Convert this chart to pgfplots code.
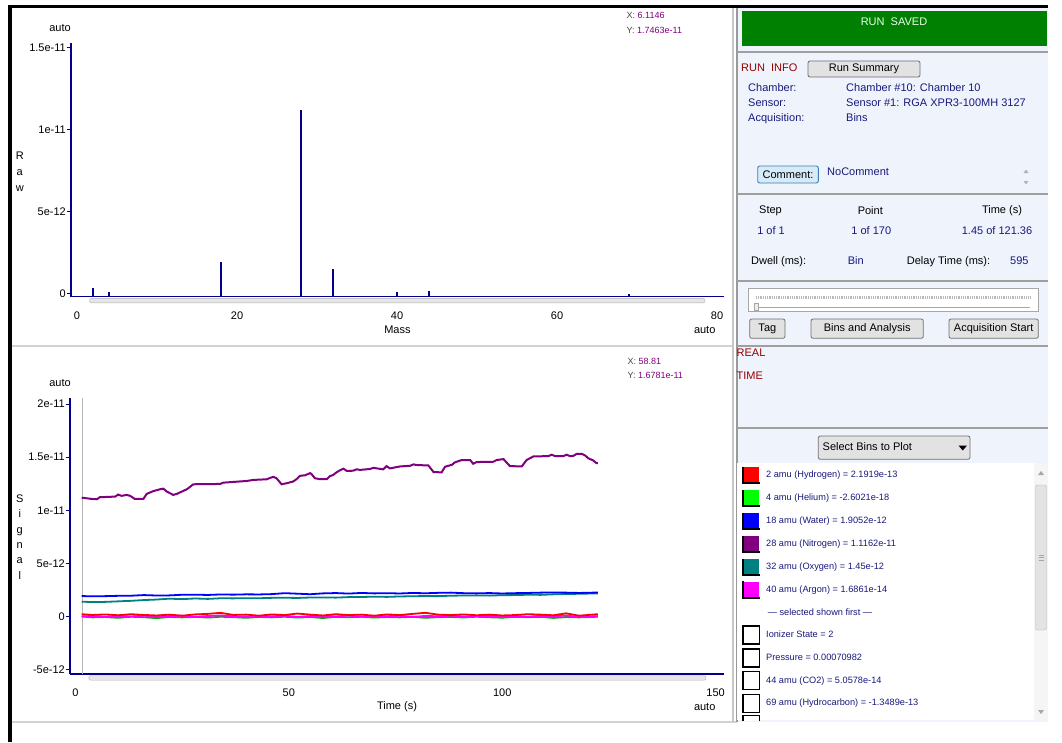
\documentclass[border=0pt]{standalone}
\usepackage{pgfplots}
\pgfplotsset{compat=1.18}
\usepackage{pgfplotstable}
\usepackage{fontspec}
\setmainfont{Liberation Sans}
\definecolor{axnavy}{RGB}{0,0,140}
\definecolor{panelbg}{RGB}{238,243,252}
\definecolor{sepgray}{RGB}{150,150,150}
\definecolor{runred}{RGB}{150,0,0}
\definecolor{txtnavy}{RGB}{25,25,125}
\definecolor{runsaved}{RGB}{0,128,0}
\definecolor{btnfill}{RGB}{226,226,226}
\definecolor{btnedge}{RGB}{112,112,112}
\definecolor{cpurple}{RGB}{128,0,128}
\definecolor{cteal}{RGB}{0,128,128}
\definecolor{cred}{RGB}{255,0,0}
\definecolor{cgreen}{RGB}{0,255,0}
\definecolor{cgreenline}{RGB}{0,170,0}
\definecolor{cblue}{RGB}{0,0,255}
\definecolor{cmag}{RGB}{255,0,255}
\definecolor{cursorgray}{RGB}{180,180,180}
\definecolor{readoutgray}{RGB}{70,70,70}
\definecolor{combtn}{RGB}{214,234,248}
\definecolor{combtnedge}{RGB}{60,127,177}
\newcommand\fa{\fontsize{11}{13}\selectfont}
\newcommand\fb{\fontsize{9.2}{11}\selectfont}
\newcommand\fc{\fontsize{9}{11}\selectfont}
\newcommand\legsq[3]{%
  \fill[#1] (742,{-#2+8}) rectangle (759,{-#2-8});
  \draw[black,line width=1.6pt] (742.8,{-#2+8.5}) -- (742.8,{-#2-8.2}) -- (760,{-#2-8.2});
  \node[anchor=mid west,inner sep=0,text=txtnavy,font=\fb] at (766,-#2) {#3};}
\newcommand\legbox[2]{%
  \draw[black,line width=1.6pt,fill=white] (743,{-#1+9}) rectangle (759.5,{-#1-9});
  \node[anchor=mid west,inner sep=0,text=txtnavy,font=\fb] at (766,-#1) {#2};}
\newcommand\btn[5]{%
  \draw[btnedge,fill=btnfill,rounded corners=2pt,line width=0.8pt] (#1,-#2) rectangle (#3,-#4);
  \node[inner sep=0,font=\fa] at ({(#1+#3)/2},{-(#2+#4)/2}) {#5};}

\pgfplotstableread{
t     red        green       blue       teal       mag
1.45  0.22e-12   0.00e-12    1.93e-12   1.40e-12   0.02e-12
4     0.15e-12   -0.08e-12   1.90e-12   1.36e-12   0.05e-12
7     0.20e-12   -0.05e-12   1.92e-12   1.38e-12   -0.03e-12
10    0.12e-12   -0.12e-12   1.95e-12   1.43e-12   0.06e-12
13    0.22e-12   -0.02e-12   1.96e-12   1.48e-12   0.00e-12
16    0.15e-12   -0.06e-12   2.02e-12   1.55e-12   0.08e-12
19    0.10e-12   -0.15e-12   1.98e-12   1.60e-12   -0.02e-12
22    0.18e-12   -0.04e-12   1.99e-12   1.68e-12   0.04e-12
25    0.08e-12   -0.08e-12   2.05e-12   1.64e-12   0.07e-12
28    0.20e-12   -0.03e-12   2.06e-12   1.70e-12   -0.04e-12
31    0.25e-12   -0.10e-12   2.03e-12   1.66e-12   0.05e-12
34    0.35e-12   -0.02e-12   2.08e-12   1.72e-12   0.10e-12
37    0.15e-12   -0.06e-12   2.06e-12   1.71e-12   0.02e-12
40    0.18e-12   -0.12e-12   2.09e-12   1.73e-12   -0.03e-12
43    0.08e-12   -0.04e-12   2.08e-12   1.72e-12   0.06e-12
46    0.20e-12   -0.08e-12   2.11e-12   1.76e-12   0.01e-12
49    0.14e-12   -0.02e-12   2.20e-12   1.77e-12   0.08e-12
52    0.28e-12   -0.10e-12   2.15e-12   1.75e-12   -0.05e-12
55    0.18e-12   -0.05e-12   2.10e-12   1.79e-12   0.04e-12
58    0.10e-12   -0.14e-12   2.18e-12   1.80e-12   0.06e-12
61    0.22e-12   -0.03e-12   2.21e-12   1.78e-12   0.00e-12
64    0.14e-12   -0.07e-12   2.16e-12   1.83e-12   0.09e-12
67    0.18e-12   -0.02e-12   2.22e-12   1.84e-12   -0.02e-12
70    0.08e-12   -0.10e-12   2.18e-12   1.87e-12   0.05e-12
73    0.20e-12   -0.05e-12   2.20e-12   1.85e-12   0.03e-12
76    0.14e-12   -0.08e-12   2.17e-12   1.89e-12   0.07e-12
79    0.25e-12   -0.03e-12   2.22e-12   1.91e-12   -0.04e-12
82    0.35e-12   -0.12e-12   2.19e-12   1.93e-12   0.06e-12
85    0.18e-12   -0.06e-12   2.23e-12   1.92e-12   0.02e-12
88    0.14e-12   -0.04e-12   2.25e-12   1.96e-12   0.08e-12
91    0.20e-12   -0.09e-12   2.20e-12   1.98e-12   -0.01e-12
94    0.12e-12   -0.02e-12   2.18e-12   1.99e-12   0.04e-12
97    0.18e-12   -0.07e-12   2.21e-12   1.97e-12   0.06e-12
100   0.10e-12   -0.11e-12   2.17e-12   2.01e-12   0.00e-12
103   0.14e-12   -0.04e-12   2.20e-12   2.02e-12   0.05e-12
106   0.22e-12   -0.06e-12   2.22e-12   2.05e-12   -0.03e-12
109   0.18e-12   -0.03e-12   2.25e-12   2.04e-12   0.07e-12
112   0.12e-12   -0.13e-12   2.27e-12   2.09e-12   0.02e-12
115   0.30e-12   -0.05e-12   2.25e-12   2.12e-12   0.10e-12
118   0.08e-12   -0.08e-12   2.22e-12   2.14e-12   -0.06e-12
122.4 0.22e-12   -0.02e-12   2.26e-12   2.18e-12   0.04e-12
}\signal

\begin{document}
\begin{tikzpicture}
\begin{scope}[x=1pt,y=1pt]
\path[use as bounding box,fill=white] (0,0) rectangle (1062,-742);
% right panel background
\fill[panelbg] (737,-7) rectangle (1048,-722);
% separators between panels
\fill[gray!35] (12,-345) rectangle (733,-347);
\fill[gray!35] (12,-721) rectangle (737,-723);
\fill[gray!45] (732,-8) rectangle (734,-722);
\fill[gray!80] (736,-8) rectangle (738,-722);
% green box
\fill[runsaved] (742,-11) rectangle (1046.5,-45.7);
\node[font=\fa,text=green!8!white,inner sep=0] at (894,-21.5) {RUN\ \ SAVED};
% separators right panel
\foreach \yy in {52,194,281,346,428} {\fill[gray!75] (737,-\yy+1) rectangle (1048,-\yy-1);}
% run info
\node[anchor=mid west,inner sep=0,font=\fa,text=runred] at (741,-69) {RUN\ \ INFO};
\btn{808}{61}{920}{77}{Run Summary}
\node[anchor=mid west,inner sep=0,font=\fa,text=txtnavy] at (748,-89.3) {Chamber:};
\node[anchor=mid west,inner sep=0,font=\fa,text=txtnavy] at (748,-104) {Sensor:};
\node[anchor=mid west,inner sep=0,font=\fa,text=txtnavy] at (748,-119) {Acquisition:};
\node[anchor=mid west,inner sep=0,font=\fa,text=txtnavy] at (846,-89.3) {Chamber \#10: Chamber 10};
\node[anchor=mid west,inner sep=0,font=\fa,text=txtnavy] at (846,-104) {Sensor \#1: RGA XPR3-100MH 3127};
\node[anchor=mid west,inner sep=0,font=\fa,text=txtnavy] at (846,-119) {Bins};
\draw[combtnedge,fill=combtn,rounded corners=2pt,line width=0.9pt] (757.7,-166) rectangle (818.3,-183);
\node[inner sep=0,font=\fa] at (788,-174.5) {Comment:};
\node[anchor=mid west,inner sep=0,font=\fa,text=txtnavy] at (827,-172.7) {NoComment};
\fill[gray!60] (1023.5,-173) -- (1028.5,-173) -- (1026,-169.5) -- cycle;
\fill[gray!60] (1023.5,-181) -- (1028.5,-181) -- (1026,-184.5) -- cycle;
% step / point / time
\node[inner sep=0,font=\fa] at (770.5,-210.7) {Step};
\node[inner sep=0,font=\fa] at (870.3,-210.7) {Point};
\node[inner sep=0,font=\fa] at (1002,-210.7) {Time (s)};
\node[inner sep=0,font=\fa,text=txtnavy] at (771,-231) {1 of 1};
\node[inner sep=0,font=\fa,text=txtnavy] at (871.3,-231) {1 of 170};
\node[inner sep=0,font=\fa,text=txtnavy] at (997,-231) {1.45 of 121.36};
\node[anchor=mid west,inner sep=0,font=\fa] at (751,-261.7) {Dwell (ms):};
\node[anchor=mid west,inner sep=0,font=\fa,text=txtnavy] at (847.7,-261.7) {Bin};
\node[anchor=mid west,inner sep=0,font=\fa] at (906.7,-261.7) {Delay Time (ms):};
\node[anchor=mid west,inner sep=0,font=\fa,text=txtnavy] at (1010,-261.7) {595};
% slider
\draw[gray!70,fill=white,line width=0.8pt] (748.3,-288.3) rectangle (1038.3,-311.7);
\draw[gray!55,line width=2.5pt,dash pattern=on 0.8pt off 1pt] (756,-297.3) -- (1030,-297.3);
\draw[gray!70,line width=0.8pt] (756,-307.3) -- (1030,-307.3);
\draw[gray!70,fill=gray!15] (754.5,-310) rectangle (758.5,-303);
% buttons
\btn{749.7}{319}{785}{338.3}{Tag}
\btn{811}{319}{923.3}{338.3}{Bins and Analysis}
\btn{949}{319}{1038.3}{338.3}{Acquisition Start}
% real time
\node[anchor=mid west,inner sep=0,font=\fa,text=runred] at (736.5,-354.3) {REAL};
\node[anchor=mid west,inner sep=0,font=\fa,text=runred] at (736.5,-376.7) {TIME};
% dropdown
\draw[btnedge,fill=btnfill,rounded corners=2pt,line width=0.8pt] (818.3,-436) rectangle (970,-459.3);
\node[anchor=mid west,inner sep=0,font=\fa] at (822.5,-447.8) {Select Bins to Plot};
\fill[black] (958.5,-445.5) -- (967,-445.5) -- (962.75,-450.5) -- cycle;
% list box
\fill[white] (737,-463) rectangle (1034,-720);
\fill[gray!8] (1034,-463) rectangle (1048,-720);
\draw[gray!55,fill=gray!22,rounded corners=2pt] (1035.5,-485) rectangle (1046.5,-630);
\foreach \yy in {555,557.5,560} {\draw[gray!70] (1038.5,-\yy) -- (1043.5,-\yy);}
\fill[gray!70] (1038,-475) -- (1044,-475) -- (1041,-471) -- cycle;
\fill[gray!70] (1038,-710) -- (1044,-710) -- (1041,-714) -- cycle;
\legsq{cred}{475}{2 amu (Hydrogen) = 2.1919e-13}
\legsq{cgreen}{498}{4 amu (Helium) = -2.6021e-18}
\legsq{cblue}{521}{18 amu (Water) = 1.9052e-12}
\legsq{cpurple}{544}{28 amu (Nitrogen) = 1.1162e-11}
\legsq{cteal}{567}{32 amu (Oxygen) = 1.45e-12}
\legsq{cmag}{589.5}{40 amu (Argon) = 1.6861e-14}
\node[inner sep=0,font=\fb,text=txtnavy] at (820,-612.3) {— selected shown first —};
\legbox{635}{Ionizer State = 2}
\legbox{658}{Pressure = 0.00070982}
\legbox{680.5}{44 amu (CO2) = 5.0578e-14}
\legbox{703.3}{69 amu (Hydrocarbon) = -1.3489e-13}
\begin{scope}
\clip (737,-715) rectangle (1034,-720);
\draw[black,line width=1.6pt,fill=white] (743,-715.5) rectangle (759.5,-735);
\end{scope}
% top chart texts
\node[inner sep=0,font=\fa] at (60,-27.7) {auto};
\node[inner sep=0,font=\fontsize{11}{15.8}\selectfont,align=center] at (19.8,-172) {R\\a\\w};
\node[inner sep=0,font=\fa] at (397.4,-330) {Mass};
\node[inner sep=0,font=\fa] at (704.7,-330) {auto};
\node[anchor=mid west,inner sep=0,font=\fc] at (626.5,-15.7) {\textcolor{readoutgray}{X:} \textcolor{cpurple}{6.1146}};
\node[anchor=mid west,inner sep=0,font=\fc] at (626.5,-31) {\textcolor{readoutgray}{Y:} \textcolor{cpurple}{1.7463e-11}};
\draw[gray!60,fill=gray!20,rounded corners=2pt] (89.6,-298.3) rectangle (705,-302.9);
% bottom chart texts
\node[inner sep=0,font=\fa] at (60,-382.7) {auto};
\node[inner sep=0,font=\fontsize{11}{15.3}\selectfont,align=center] at (19.8,-537) {S\\i\\g\\n\\a\\l};
\node[inner sep=0,font=\fa] at (397,-706.7) {Time (s)};
\node[inner sep=0,font=\fa] at (704.7,-706.7) {auto};
\node[anchor=mid west,inner sep=0,font=\fc] at (627.3,-361.7) {\textcolor{readoutgray}{X:} \textcolor{cpurple}{58.81}};
\node[anchor=mid west,inner sep=0,font=\fc] at (627.3,-375.7) {\textcolor{readoutgray}{Y:} \textcolor{cpurple}{1.6781e-11}};
\draw[gray!60,fill=gray!20,rounded corners=2pt] (88.7,-675.7) rectangle (706,-680.2);
% outer black border
\fill[black] (8,-5) rectangle (1048,-7.5);
\fill[black] (8,-5) rectangle (12,-742);
\end{scope}

% ---------- top chart: raw mass spectrum ----------
\begin{axis}[
  at={(71pt,-296.5pt)}, anchor=south west,
  scale only axis, width=653pt, height=253.5pt,
  xmin=-0.75, xmax=80.875, ymin=-0.183e-12, ymax=15.27e-12,
  axis x line=bottom, axis y line=left,
  axis line style={-,draw=axnavy,line width=1.6pt},
  xtick={0,20,40,60,80}, xticklabels={0,20,40,60,80},
  ytick={0,5e-12,1e-11,1.5e-11}, yticklabels={0,5e-12,1e-11,1.5e-11},
  tick align=outside, major tick length=4pt,
  xtick style={draw=none}, ytick style={draw=axnavy,line width=0.8pt},
  tick label style={font=\fa},
  xticklabel style={anchor=center,yshift=-15.2pt},
  yticklabel style={anchor=east,inner sep=1pt},
  scaled y ticks=false, unbounded coords=jump,
]
\addplot[axnavy,line width=1.6pt] coordinates {
(2,-0.183e-12)(2,0.32e-12) (2,nan)
(4,-0.183e-12)(4,0.08e-12) (4,nan)
(18,-0.183e-12)(18,1.95e-12) (18,nan)
(28,-0.183e-12)(28,11.16e-12) (28,nan)
(32,-0.183e-12)(32,1.52e-12) (32,nan)
(40,-0.183e-12)(40,0.09e-12) (40,nan)
(44,-0.183e-12)(44,0.17e-12) (44,nan)
(69,-0.183e-12)(69,-0.03e-12)
};
\end{axis}

% ---------- bottom chart: signal vs time ----------
\begin{axis}[
  at={(70pt,-674pt)}, anchor=south west,
  scale only axis, width=654pt, height=276pt,
  xmin=-1.29, xmax=151.98, ymin=-5.41e-12, ymax=20.57e-12,
  axis x line=bottom, axis y line=left,
  axis line style={-,draw=axnavy,line width=1.6pt},
  xtick={0,50,100,150}, xticklabels={0,50,100,150},
  ytick={-5e-12,0,5e-12,1e-11,1.5e-11,2e-11},
  yticklabels={-5e-12,0,5e-12,1e-11,1.5e-11,2e-11},
  tick align=outside, major tick length=4pt,
  xtick style={draw=none}, ytick style={draw=axnavy,line width=0.8pt},
  tick label style={font=\fa},
  xticklabel style={anchor=center,yshift=-14.3pt},
  yticklabel style={anchor=east,inner sep=1pt},
  scaled y ticks=false,
]
\addplot[cursorgray,line width=1.5pt] coordinates {(1.6,-5.41e-12)(1.6,20.57e-12)};
\addplot[cgreenline,line width=1.8pt] table[x=t,y=green] {\signal};
\addplot[cmag,line width=1.8pt] table[x=t,y=mag] {\signal};
\addplot[cred,line width=1.8pt] table[x=t,y=red] {\signal};
\addplot[cteal,line width=1.8pt] table[x=t,y=teal] {\signal};
\addplot[cblue,line width=1.8pt] table[x=t,y=blue] {\signal};
\addplot[cpurple,line width=2pt] coordinates {
(1.45,11.19e-12)(3.8,11.07e-12)(5.0,11.04e-12)(5.7,11.23e-12)(9.3,11.29e-12)(10.0,11.48e-12)
(10.8,11.36e-12)(12.0,11.45e-12)(12.8,11.36e-12)(13.9,11.07e-12)(15.9,11.07e-12)(16.7,11.55e-12)
(18.2,11.8e-12)(19.8,11.98e-12)(20.6,12.04e-12)(21.4,11.76e-12)(22.9,11.45e-12)(23.7,11.54e-12)
(24.9,11.76e-12)(26.1,11.98e-12)(27.2,12.32e-12)(27.6,12.45e-12)(33.9,12.48e-12)(34.6,12.6e-12)
(37.0,12.67e-12)(40.1,12.76e-12)(41.7,12.86e-12)(44.8,12.92e-12)(45.6,13.05e-12)(46.4,13.15e-12)
(47.1,13.02e-12)(48.3,12.45e-12)(49.5,12.55e-12)(51.0,12.71e-12)(51.8,12.93e-12)(52.6,13.24e-12)
(53.8,13.3e-12)(55.0,13.5e-12)(55.4,13.37e-12)(56.1,13.02e-12)(57.3,12.93e-12)(58.9,12.93e-12)
(59.6,13.21e-12)(60.4,13.33e-12)(61.2,13.58e-12)(62.0,13.77e-12)(62.8,13.92e-12)(63.6,13.7e-12)
(65.1,13.73e-12)(65.9,13.86e-12)(66.7,13.8e-12)(68.2,13.86e-12)(69.0,13.88e-12)(69.8,14.0e-12)
(72.1,13.85e-12)(72.9,14.16e-12)(73.7,13.94e-12)(74.9,14.04e-12)(76.1,14.13e-12)(78.4,14.19e-12)
(79.2,14.32e-12)(80.0,14.26e-12)(82.7,14.22e-12)(83.9,13.6e-12)(85.8,13.57e-12)(86.6,14.1e-12)
(88.2,14.28e-12)(88.9,14.51e-12)(90.5,14.73e-12)(92.5,14.73e-12)(93.2,14.38e-12)(94.0,14.54e-12)
(97.9,14.57e-12)(98.7,14.73e-12)(100.3,14.82e-12)(101.8,14.16e-12)(104.6,14.13e-12)(105.7,14.73e-12)
(107.3,15.07e-12)(110.8,15.1e-12)(111.6,15.23e-12)(112.4,15.1e-12)(114.3,15.1e-12)(115.1,15.23e-12)
(115.9,15.1e-12)(116.7,15.13e-12)(117.5,15.32e-12)(118.6,15.32e-12)(119.4,15.17e-12)(120.2,14.89e-12)
(121.3,14.7e-12)(122.1,14.44e-12)(122.4,14.44e-12)
};
\end{axis}
\end{tikzpicture}
\end{document}
